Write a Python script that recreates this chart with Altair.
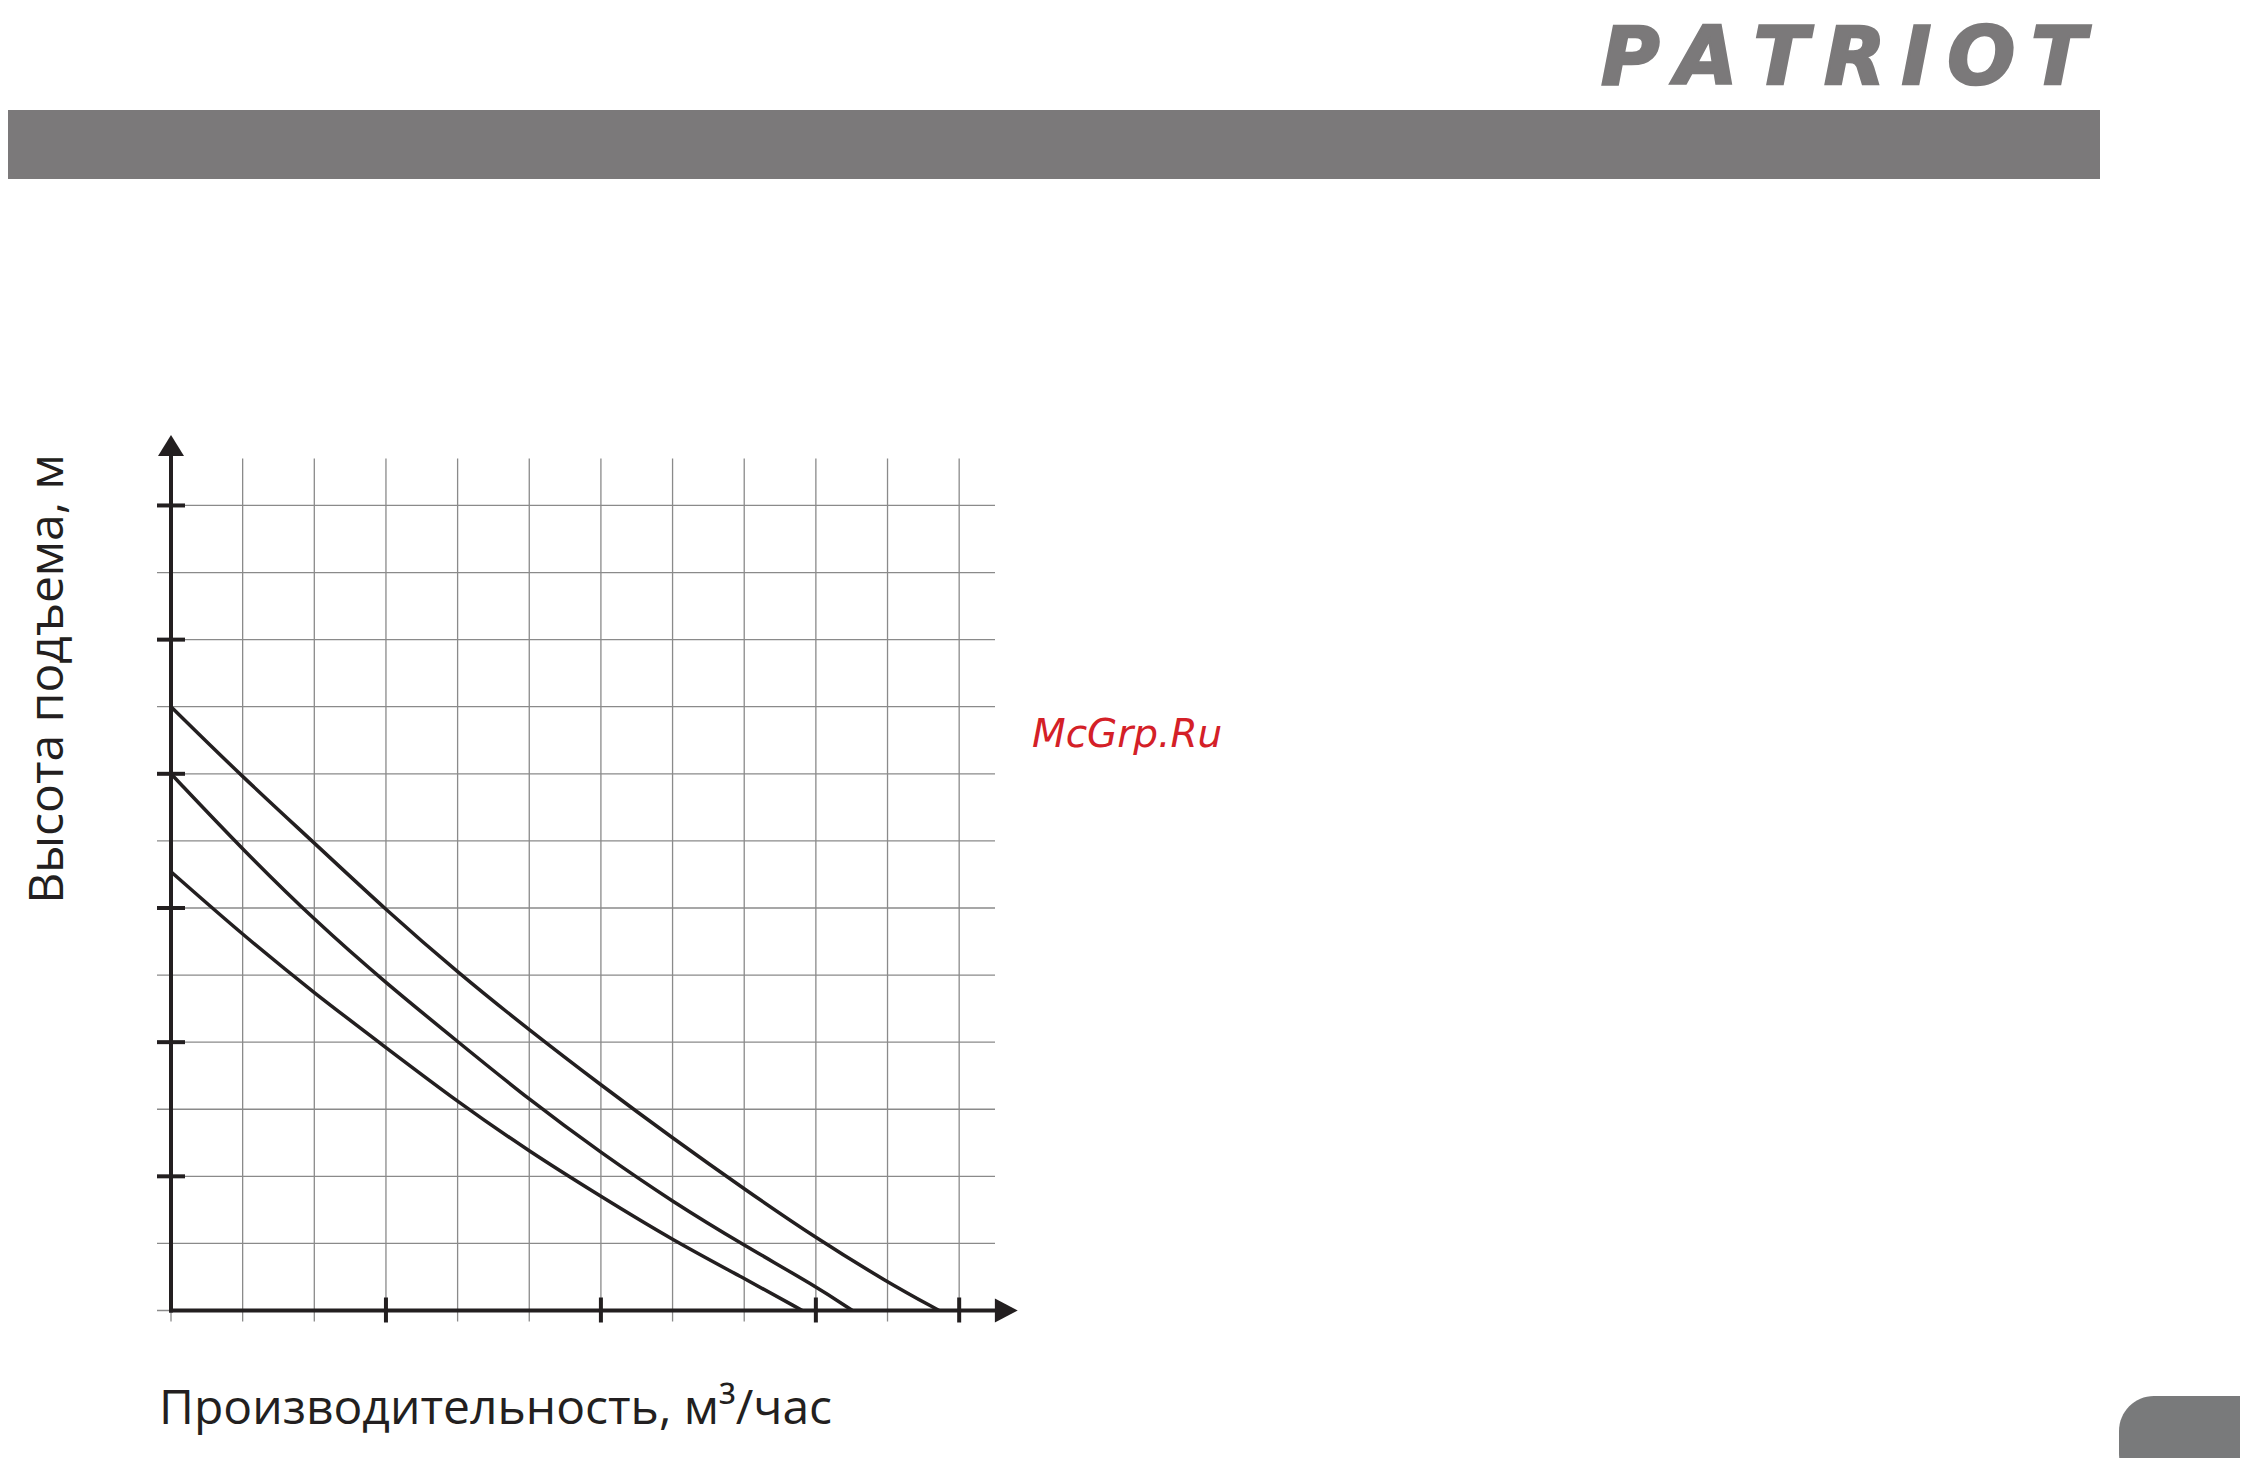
import altair as alt
import pandas as pd

# ---- data (grid units) ----
curve_a_x = [0, 1, 2, 3, 4, 5, 6, 7, 8, 9, 10, 10.72]
curve_a_y = [9.0, 7.95, 6.97, 5.97, 5.04, 4.18, 3.36, 2.57, 1.81, 1.08, 0.42, 0]
curve_b_x = [0, 1, 2, 3, 4, 5, 6, 7, 8, 9, 9.51]
curve_b_y = [8.0, 6.87, 5.82, 4.88, 4.01, 3.14, 2.35, 1.62, 0.97, 0.36, 0]
curve_c_x = [0, 1, 2, 3, 4, 5, 6, 7, 8, 8.81]
curve_c_y = [6.54, 5.60, 4.73, 3.92, 3.11, 2.37, 1.70, 1.05, 0.48, 0]

grid_x = list(range(0, 12))
grid_y = list(range(0, 13))
x_ticks = [3, 6, 9, 11]
y_ticks = [2, 4, 6, 8, 10, 12]

x_title = "Производительность, м³/час"
y_title = "Высота подъема, м"
watermark = "McGrp.Ru"
logo = "\u200a\u200a".join("PATRIOT")

# ---- layout ----
W, H = 824, 852
BLACK = "#231f20"
GRID = "#8a8a8a"
GREY = "#7b797a"

xs = alt.Scale(domain=[0, 11.5], nice=False, zero=False)
ys = alt.Scale(domain=[0, 12.7], nice=False, zero=False)

rows = []
for name, xv, yv in (("A", curve_a_x, curve_a_y), ("B", curve_b_x, curve_b_y), ("C", curve_c_x, curve_c_y)):
    for a, b in zip(xv, yv):
        rows.append({"series": name, "x": a, "y": b})
curves_df = pd.DataFrame(rows)

one = pd.DataFrame({"x": [0], "y": [0]})

bar = alt.Chart(one).mark_rect(color=GREY).encode(
    x=alt.value(-164), x2=alt.value(1929), y=alt.value(-348.5), y2=alt.value(-279.5))

logo_t = alt.Chart(one).mark_text(
    text=logo, font="DejaVu Sans", fontSize=80, fontWeight="bold", fontStyle="italic",
    color=GREY, stroke=GREY, strokeWidth=2.5, align="left", baseline="alphabetic").encode(
    x=alt.value(1430), y=alt.value(-374.5))

tab = alt.Chart(one).mark_rect(color="#797a7b", cornerRadius=35).encode(
    x=alt.value(1948), x2=alt.value(2110), y=alt.value(937.5), y2=alt.value(1030))

vgrid = alt.Chart(pd.DataFrame({"g": grid_x})).mark_rule(color=GRID, strokeWidth=1.3).encode(
    x=alt.X("g:Q", scale=xs, axis=None), y=alt.value(0), y2=alt.value(H + 11))

hgrid = alt.Chart(pd.DataFrame({"g": grid_y})).mark_rule(color=GRID, strokeWidth=1.3).encode(
    y=alt.Y("g:Q", scale=ys, axis=None), x=alt.value(-14), x2=alt.value(W))

lines = alt.Chart(curves_df).mark_line(color=BLACK, strokeWidth=3.5, interpolate="basis").encode(
    x=alt.X("x:Q", scale=xs, axis=None),
    y=alt.Y("y:Q", scale=ys, axis=None),
    detail="series:N")

yaxis = alt.Chart(one).mark_rule(color=BLACK, strokeWidth=4).encode(
    x=alt.X("x:Q", scale=xs, axis=None), y=alt.value(H + 2), y2=alt.value(-2.5))
xaxis = alt.Chart(one).mark_rule(color=BLACK, strokeWidth=4).encode(
    y=alt.Y("y:Q", scale=ys, axis=None), x=alt.value(-2), x2=alt.value(W))

yt = alt.Chart(pd.DataFrame({"t": y_ticks})).mark_rule(color=BLACK, strokeWidth=4).encode(
    y=alt.Y("t:Q", scale=ys, axis=None), x=alt.value(-14), x2=alt.value(14))
xt = alt.Chart(pd.DataFrame({"t": x_ticks})).mark_rule(color=BLACK, strokeWidth=4).encode(
    x=alt.X("t:Q", scale=xs, axis=None), y=alt.value(H - 13), y2=alt.value(H + 12))

yarrow = alt.Chart(one).mark_point(
    shape="M-1,0.8L0,-0.8L1,0.8Z", size=676, filled=True, color=BLACK, opacity=1, strokeWidth=0).encode(
    x=alt.X("x:Q", scale=xs, axis=None), y=alt.value(-13))
xarrow = alt.Chart(one).mark_point(
    shape="M-0.95,-1L0.95,0L-0.95,1Z", size=576, filled=True, color=BLACK, opacity=1, strokeWidth=0).encode(
    y=alt.Y("y:Q", scale=ys, axis=None), x=alt.value(835.3))

xtitle = alt.Chart(one).mark_text(
    text=x_title, font="Open Sans", fontSize=48, color=BLACK, align="left", baseline="alphabetic").encode(
    x=alt.value(-12), y=alt.value(965.5))
ytitle = alt.Chart(one).mark_text(
    text=y_title, font="Open Sans", fontSize=48, color=BLACK, angle=270, align="center",
    baseline="alphabetic").encode(x=alt.value(-108), y=alt.value(220.5))

wm = alt.Chart(one).mark_text(
    text=watermark, font="DejaVu Sans", fontSize=39, fontStyle="italic", color="#d42027",
    align="left", baseline="alphabetic").encode(x=alt.value(861), y=alt.value(288))

chart = alt.layer(
    bar, logo_t, tab, vgrid, hgrid, lines, yaxis, xaxis, yt, xt, yarrow, xarrow, xtitle, ytitle, wm
).properties(
    width=W, height=H, autosize="none",
    padding={"left": 163, "top": 450.5, "right": 1245, "bottom": 147.5},
    background="white",
).configure_view(stroke=None)

chart.save("out.html", embed_options={"renderer": "svg", "actions": False})
